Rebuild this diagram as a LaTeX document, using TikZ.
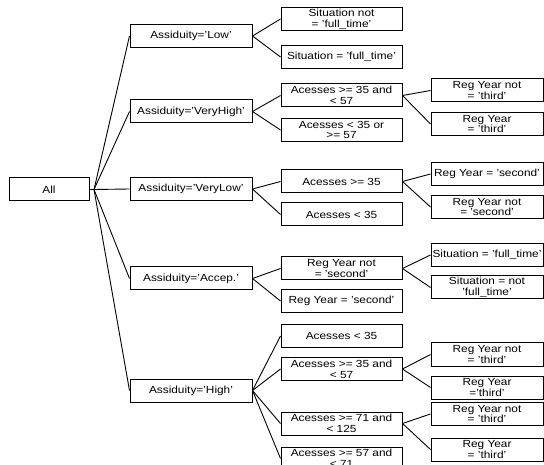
\documentclass[tikz,border=0pt]{standalone}
\usepackage{fontspec}
\setmainfont[FakeStretch=1.15]{Liberation Sans}
\begin{document}
\begin{tikzpicture}[x=1pt,y=-1pt,
  box/.style={draw, line width=1pt, fill=white, inner sep=0pt, align=center,
    font=\fontsize{10.3}{10.8}\selectfont, minimum height=23pt},
  rootbox/.style={box, minimum width=80pt},
  lone/.style={box, minimum width=122pt},
  ltwo/.style={box, minimum width=121pt},
  lthree/.style={box, minimum width=112pt},
  link/.style={line width=0.9pt}]
\useasboundingbox (0,0) rectangle (544,465);

% root
\node[rootbox] (all) at (49,189.5) {All};
\coordinate (bp) at (94,189.5);

% level 1
\node[lone] (low) at (191,36) {Assiduity='Low'};
\node[lone] (vh)  at (191,111.5) {Assiduity='VeryHigh'};
\node[lone] (vl)  at (191,189) {Assiduity='VeryLow'};
\node[lone] (ac)  at (191,278.5) {Assiduity='Accep.'};
\node[lone] (hi)  at (191,390.5) {Assiduity='High'};

% level 2
\node[ltwo] (lowA) at (341.5,19) {Situation not\\= 'full\_time'};
\node[ltwo] (lowB) at (341.5,57) {Situation = 'full\_time'};
\node[ltwo] (vhA) at (341.5,95.5) {Acesses >= 35 and\\< 57};
\node[ltwo] (vhB) at (341.5,130) {Acesses < 35 or\\>= 57};
\node[ltwo] (vlA) at (341.5,181.5) {Acesses >= 35};
\node[ltwo] (vlB) at (341.5,214.5) {Acesses < 35};
\node[ltwo] (acA) at (341.5,268.5) {Reg Year not\\= 'second'};
\node[ltwo] (acB) at (341.5,301) {Reg Year = 'second'};
\node[ltwo] (hA) at (341.5,336) {Acesses < 35};
\node[ltwo] (hB) at (341.5,369) {Acesses >= 35 and\\< 57};
\node[ltwo] (hC) at (341.5,423.5) {Acesses >= 71 and\\< 125};
\node[ltwo] (hD) at (341.5,458.5) {Acesses >= 57 and\\< 71};

% level 3
\node[lthree] (vhA1) at (487,90.5) {Reg Year not\\= 'third'};
\node[lthree] (vhA2) at (487,124) {Reg Year\\= 'third'};
\node[lthree] (vlA1) at (487,174) {Reg Year = 'second'};
\node[lthree] (vlA2) at (487,207) {Reg Year not\\= 'second'};
\node[lthree] (acA1) at (487,255) {Situation = 'full\_time'};
\node[lthree] (acA2) at (487,287.5) {Situation = not\\'full\_time'};
\node[lthree] (hB1) at (487,354.5) {Reg Year not\\= 'third'};
\node[lthree] (hB2) at (487,387.5) {Reg Year\\='third'};
\node[lthree] (hC1) at (487,414) {Reg Year not\\= 'third'};
\node[lthree] (hC2) at (487,449.5) {Reg Year\\= 'third'};

% connectors
\draw[link] (all.east) -- (bp);
\foreach \n in {low,vh,vl,ac,hi} \draw[link] (bp) -- (\n.west);
\draw[link] (low.east) -- (lowA.west);
\draw[link] (low.east) -- (lowB.west);
\draw[link] (vh.east) -- (vhA.west);
\draw[link] (vh.east) -- (vhB.west);
\draw[link] (vl.east) -- (vlA.west);
\draw[link] (vl.east) -- (vlB.west);
\draw[link] (ac.east) -- (acA.west);
\draw[link] (ac.east) -- (acB.west);
\draw[link] (hi.east) -- (hA.west);
\draw[link] (hi.east) -- (hB.west);
\draw[link] (hi.east) -- (hC.west);
\draw[link] (hi.east) -- (hD.west);
\draw[link] (vhA.east) -- (vhA1.west);
\draw[link] (vhA.east) -- (vhA2.west);
\draw[link] (vlA.east) -- (vlA1.west);
\draw[link] (vlA.east) -- (vlA2.west);
\draw[link] (acA.east) -- (acA1.west);
\draw[link] (acA.east) -- (acA2.west);
\draw[link] (hB.east) -- (hB1.west);
\draw[link] (hB.east) -- (hB2.west);
\draw[link] (hC.east) -- (hC1.west);
\draw[link] (hC.east) -- (hC2.west);
\end{tikzpicture}
\end{document}
